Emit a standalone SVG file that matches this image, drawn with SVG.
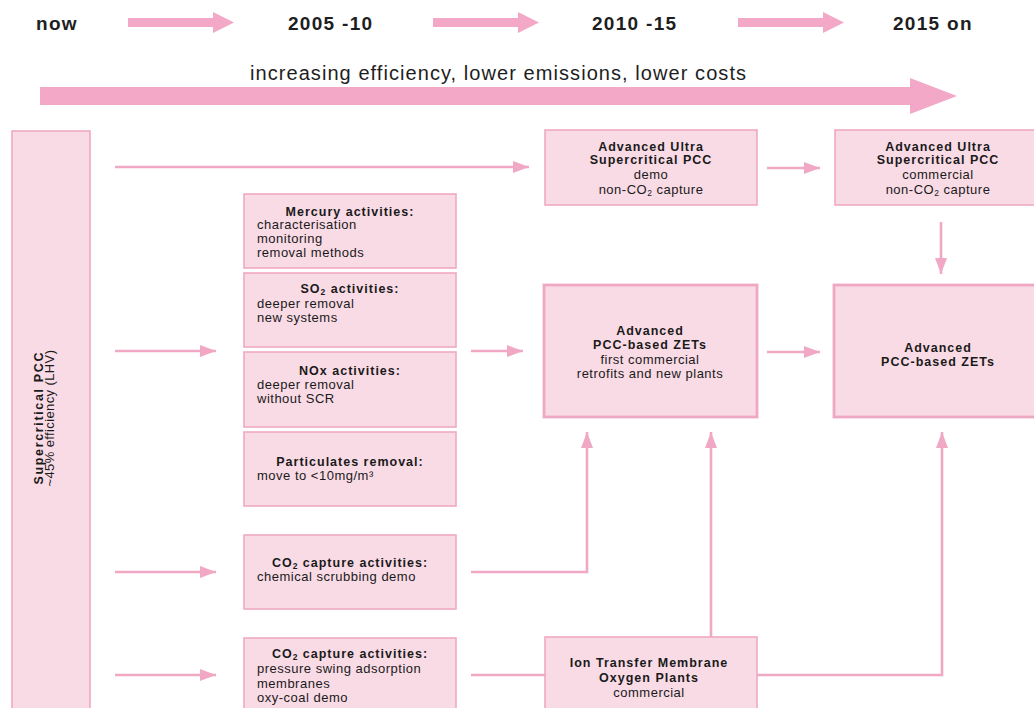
<svg xmlns="http://www.w3.org/2000/svg" width="1034" height="708" viewBox="0 0 1034 708">
<style>
.box{fill:#f9dbe6;stroke:#efa8c4;stroke-width:1.6}
.thick{stroke-width:2.8}
.hd{font-family:"Liberation Sans",Arial,sans-serif;font-weight:bold;font-size:19px;fill:#1e1e1e;letter-spacing:1.3px}
.big{font-family:"Liberation Sans",Arial,sans-serif;font-size:20px;fill:#1e1e1e}
.b{font-family:"Liberation Sans",Arial,sans-serif;font-weight:bold;font-size:12.5px;fill:#1a1a1a;letter-spacing:1px}
.r{font-family:"Liberation Sans",Arial,sans-serif;font-size:13px;fill:#1a1a1a;letter-spacing:0.5px}
.c{text-anchor:middle}
.con{fill:none;stroke:#f0a8c4;stroke-width:2.6}
.sub{font-size:8.5px}
.fat{fill:#f2a8c6}
</style>
<defs>
<marker id="ah" markerUnits="userSpaceOnUse" markerWidth="16" markerHeight="12" refX="16" refY="6" orient="auto">
<path d="M0,0 L16,6 L0,12 z" fill="#f0a8c4"/>
</marker>
</defs>

<g id="timeline">
<text class="hd" x="36" y="30">now</text>
<polygon class="fat" points="128,18 213,18 213,12 234,22.5 213,33 213,27 128,27"/>
<text class="hd" x="288" y="30">2005 -10</text>
<polygon class="fat" points="433,18 518,18 518,12 539,22.5 518,33 518,27 433,27"/>
<text class="hd" x="592" y="30">2010 -15</text>
<polygon class="fat" points="738,18 823,18 823,12 844,22.5 823,33 823,27 738,27"/>
<text class="hd" x="893" y="30">2015 on</text>
<text class="big" x="250" y="80" textLength="496">increasing efficiency, lower emissions, lower costs</text>
<polygon class="fat" points="40,87 910,87 910,78 957,96 910,114 910,105 40,105"/>
</g>

<g id="connectors">
<line class="con" x1="115" y1="167" x2="529" y2="167" marker-end="url(#ah)"/>
<line class="con" x1="115" y1="351" x2="216" y2="351" marker-end="url(#ah)"/>
<line class="con" x1="115" y1="572" x2="216" y2="572" marker-end="url(#ah)"/>
<line class="con" x1="115" y1="675" x2="216" y2="675" marker-end="url(#ah)"/>
<line class="con" x1="471" y1="351" x2="523" y2="351" marker-end="url(#ah)"/>
<line class="con" x1="767" y1="168" x2="820" y2="168" marker-end="url(#ah)"/>
<line class="con" x1="767" y1="352" x2="820" y2="352" marker-end="url(#ah)"/>
<line class="con" x1="941" y1="222" x2="941" y2="274" marker-end="url(#ah)"/>
<polyline class="con" points="471,572 587,572 587,432" marker-end="url(#ah)"/>
<line class="con" x1="471" y1="675" x2="545" y2="675"/>
<line class="con" x1="711" y1="637" x2="711" y2="432" marker-end="url(#ah)"/>
<polyline class="con" points="757,675 942,675 942,432" marker-end="url(#ah)"/>
</g>

<g id="supercritical">
<rect class="box" x="12" y="131" width="78" height="590"/>
<text class="b c" transform="translate(43,418) rotate(-90)" textLength="133">Supercritical PCC</text>
<text class="r c" transform="translate(54,418) rotate(-90)" textLength="137">~45% efficiency (LHV)</text>
</g>

<g id="mercury">
<rect class="box" x="244" y="194" width="212" height="74"/>
<text class="b c" x="350" y="216">Mercury activities:</text>
<text class="r" x="257" y="229">characterisation</text>
<text class="r" x="257" y="243">monitoring</text>
<text class="r" x="257" y="257">removal methods</text>
</g>

<g id="so2">
<rect class="box" x="244" y="273" width="212" height="74"/>
<text class="b c" x="350" y="293">SO<tspan class="sub" baseline-shift="-1.5">2</tspan> activities:</text>
<text class="r" x="257" y="308">deeper removal</text>
<text class="r" x="257" y="322">new systems</text>
</g>

<g id="nox">
<rect class="box" x="244" y="352" width="212" height="75"/>
<text class="b c" x="350" y="375">NOx activities:</text>
<text class="r" x="257" y="389">deeper removal</text>
<text class="r" x="257" y="403">without SCR</text>
</g>

<g id="particulates">
<rect class="box" x="244" y="432" width="212" height="74"/>
<text class="b c" x="350" y="466">Particulates removal:</text>
<text class="r" x="257" y="480">move to &lt;10mg/m³</text>
</g>

<g id="co2-scrubbing">
<rect class="box" x="244" y="535" width="212" height="74"/>
<text class="b c" x="350" y="567">CO<tspan class="sub" baseline-shift="-1.5">2</tspan> capture activities:</text>
<text class="r" x="257" y="581">chemical scrubbing demo</text>
</g>

<g id="co2-other">
<rect class="box" x="244" y="638" width="212" height="80"/>
<text class="b c" x="350" y="658">CO<tspan class="sub" baseline-shift="-1.5">2</tspan> capture activities:</text>
<text class="r" x="257" y="673">pressure swing adsorption</text>
<text class="r" x="257" y="688">membranes</text>
<text class="r" x="257" y="702">oxy-coal demo</text>
</g>

<g id="ausc-demo">
<rect class="box" x="545" y="130" width="212" height="75"/>
<text class="b c" x="651" y="151">Advanced Ultra</text>
<text class="b c" x="651" y="164">Supercritical PCC</text>
<text class="r c" x="651" y="179">demo</text>
<text class="r c" x="651" y="194">non-CO<tspan class="sub" baseline-shift="-1.5">2</tspan> capture</text>
</g>

<g id="pcc-zets-first">
<rect class="box thick" x="544" y="285" width="213" height="132"/>
<text class="b c" x="650" y="335">Advanced</text>
<text class="b c" x="650" y="349">PCC-based ZETs</text>
<text class="r c" x="650" y="364">first commercial</text>
<text class="r c" x="650" y="378">retrofits and new plants</text>
</g>

<g id="itm">
<rect class="box" x="545" y="637" width="212" height="80"/>
<text class="b c" x="649" y="667">Ion Transfer Membrane</text>
<text class="b c" x="649" y="682">Oxygen Plants</text>
<text class="r c" x="649" y="697">commercial</text>
</g>

<g id="ausc-commercial">
<rect class="box" x="835" y="130" width="210" height="75"/>
<text class="b c" x="938" y="151">Advanced Ultra</text>
<text class="b c" x="938" y="164">Supercritical PCC</text>
<text class="r c" x="938" y="179">commercial</text>
<text class="r c" x="938" y="194">non-CO<tspan class="sub" baseline-shift="-1.5">2</tspan> capture</text>
</g>

<g id="pcc-zets">
<rect class="box thick" x="834" y="285" width="210" height="132"/>
<text class="b c" x="938" y="352">Advanced</text>
<text class="b c" x="938" y="366">PCC-based ZETs</text>
</g>
</svg>
